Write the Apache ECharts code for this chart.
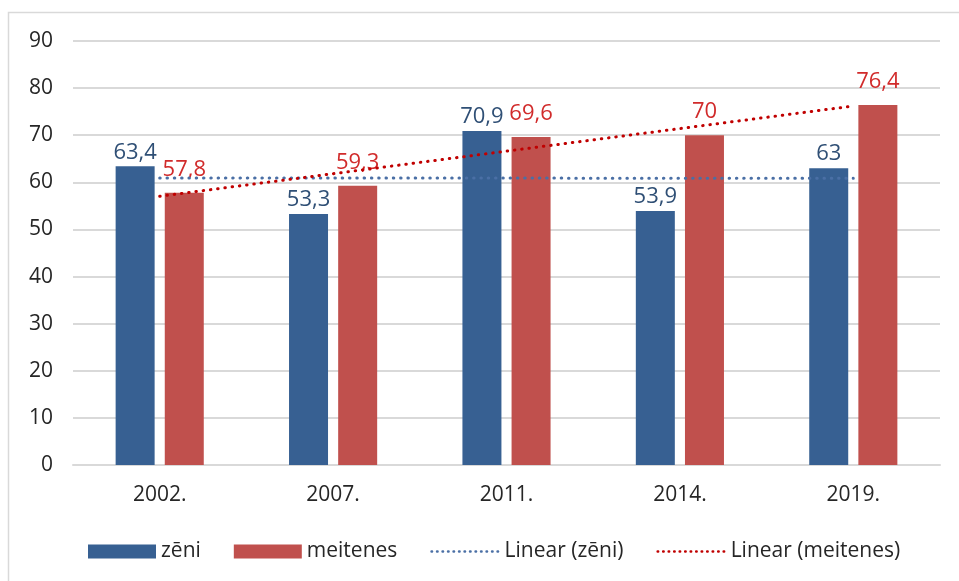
<!DOCTYPE html>
<html>
<head>
<meta charset="utf-8">
<script src="https://cdn.jsdelivr.net/npm/echarts@6/dist/echarts.min.js"></script>
<style>
html, body { margin: 0; padding: 0; background: #fff; }
#chart { width: 959px; height: 581px; }
</style>
</head>
<body>
<div id="chart"></div>
<script>
// gadi
var years = ['2002.', '2007.', '2011.', '2014.', '2019.'];
// rezultati
var zeni = [63.4, 53.3, 70.9, 53.9, 63];
var meitenes = [57.8, 59.3, 69.6, 70, 76.4];
// trenda liniju vērtības (nolasītas no attēla)
var trendZeni = [60.94, 60.92, 60.90, 60.88, 60.86];
var trendMeitenes = [57.04, 61.83, 66.62, 71.41, 76.2];
var yTicks = [0, 10, 20, 30, 40, 50, 60, 70, 80, 90];

var font = '"Open Sans", sans-serif';
var chart = echarts.init(document.getElementById('chart'));

function comma(p) {
  return String(p.value).replace('.', ',');
}

var dotted = { width: 3, type: [0.5, 6.8], cap: 'round' };

var option = {
  animation: false,
  graphic: [{
    type: 'rect',
    shape: { x: 8.5, y: 12.5, width: 1000, height: 1000 },
    style: { fill: 'none', stroke: '#d9d9d9', lineWidth: 1.5 },
    silent: true
  }],
  grid: { left: 73, right: 19, top: 41, bottom: 116 },
  legend: {
    left: 83,
    top: 536,
    itemWidth: 68,
    itemHeight: 14,
    itemGap: 33,
    textStyle: { fontFamily: font, fontSize: 21, color: '#262626' },
    data: [
      { name: 'zēni', icon: 'rect' },
      { name: 'meitenes', icon: 'rect' },
      { name: 'Linear (zēni)', itemStyle: { opacity: 0 }, lineStyle: { width: 2.5, type: [0.5, 5], cap: 'round' } },
      { name: 'Linear (meitenes)', itemStyle: { opacity: 0 }, lineStyle: { width: 2.5, type: [0.5, 5], cap: 'round' } }
    ]
  },
  xAxis: {
    type: 'category',
    data: years,
    axisTick: { show: false },
    axisLine: { lineStyle: { color: '#d9d9d9', width: 2 } },
    axisLabel: { fontFamily: font, fontSize: 21, color: '#262626', margin: 20 }
  },
  yAxis: {
    type: 'value',
    min: yTicks[0],
    max: yTicks[yTicks.length - 1],
    interval: 10,
    axisLine: { show: false },
    axisTick: { show: false },
    splitLine: { lineStyle: { color: '#d9d9d9', width: 2 } },
    axisLabel: { fontFamily: font, fontSize: 21, color: '#262626', margin: 20 }
  },
  series: [
    {
      name: 'zēni',
      type: 'bar',
      data: zeni,
      barWidth: 39,
      barGap: '26%',
      z: 2,
      itemStyle: { color: '#376092' },
      label: { show: true, position: 'top', distance: 3, formatter: comma,
        fontFamily: font, fontSize: 22, color: '#2f4f75' }
    },
    {
      name: 'meitenes',
      type: 'bar',
      data: meitenes,
      barWidth: 39,
      z: 2,
      itemStyle: { color: '#c0504d' },
      label: { show: true, position: 'top', distance: 12, formatter: comma,
        fontFamily: font, fontSize: 22, color: '#d12b2b' }
    },
    {
      name: 'Linear (zēni)',
      type: 'line',
      data: trendZeni,
      symbol: 'none',
      z: 3,
      itemStyle: { color: '#4a6fa5' },
      lineStyle: Object.assign({ color: '#4a6fa5' }, dotted)
    },
    {
      name: 'Linear (meitenes)',
      type: 'line',
      data: trendMeitenes,
      symbol: 'none',
      z: 3,
      itemStyle: { color: '#c00000' },
      lineStyle: Object.assign({ color: '#c00000' }, dotted)
    }
  ]
};
chart.setOption(option);
</script>
</body>
</html>
